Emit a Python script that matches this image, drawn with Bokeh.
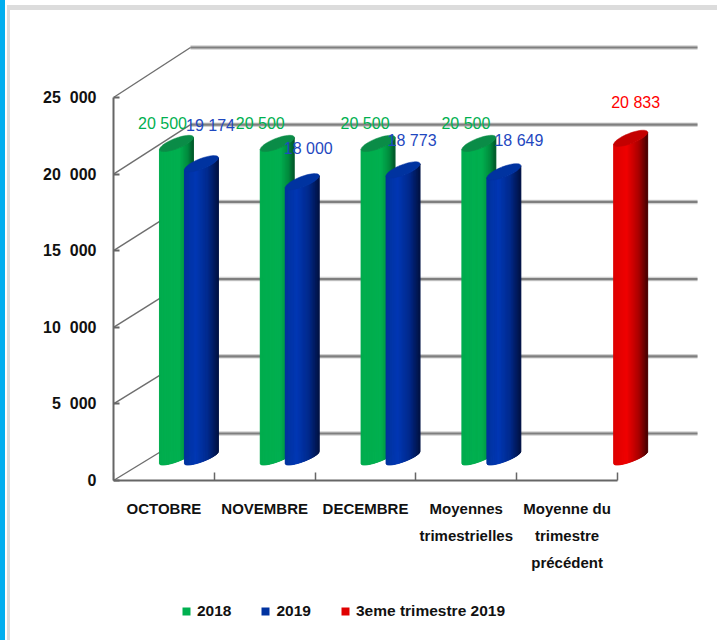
import math
from bokeh.embed import file_html
from bokeh.resources import INLINE
from bokeh.plotting import figure
from bokeh.models import Range1d, LinearAxis, FixedTicker, Legend, LegendItem, ColumnDataSource
from bokeh.core.properties import value

categories = ["OCTOBRE", "NOVEMBRE", "DECEMBRE", "Moyennes\ntrimestrielles", "Moyenne du\ntrimestre\nprécédent"]
values_2018 = [20500, 20500, 20500, 20500]
values_2019 = [19174, 18000, 18773, 18649]
values_t3 = [20833]
y_ticks = [0, 5000, 10000, 15000, 20000, 25000]
y_tick_labels = ["0", "5\u00a0\u00a0000", "10\u00a0\u00a0000", "15\u00a0\u00a0000", "20\u00a0\u00a0000", "25\u00a0\u00a0000"]
labels_2018 = ["20 500", "20 500", "20 500", "20 500"]
labels_2019 = ["19 174", "18 000", "18 773", "18 649"]
labels_t3 = ["20 833"]

FONT = "Liberation Sans"
PX_X = 100.8            # pixels per category
PX_Y = 76.6 / 5000      # pixels per value unit
ux = 1 / PX_X
uy = 1 / PX_Y

W, H = 717, 640
chrome = ("linear-gradient(#00aeef,#00aeef) 0 0/5px 100% no-repeat,"
          "linear-gradient(#dcdcdc,#dcdcdc) 7px 5px/710px 5px no-repeat,"
          "linear-gradient(#dcdcdc,#dcdcdc) 7px 5px/3px 635px no-repeat,"
          "#ffffff")
p = figure(width=W, height=H, output_backend="svg", toolbar_location=None,
           x_range=Range1d(0, (W - 113) * ux), y_range=Range1d(-160 * uy, 480 * uy),
           x_axis_type=None, y_axis_type=None,
           min_border_left=113, min_border_right=0, min_border_top=0, min_border_bottom=0,
           outline_line_color=None, background_fill_alpha=0, border_fill_alpha=0,
           styles={"background": chrome})
p.grid.visible = False

# depth of the back wall
dx, dy = 77 * ux, 47 * uy
grid_end = (697 - 113) * ux
back_gap = 1.0078
for color, width in (("#d2d2d2", 4.5), ("#7f7f7f", 2.2)):
    p.multi_line([[dx, grid_end] for _ in y_ticks], [[t * back_gap + dy, t * back_gap + dy] for t in y_ticks],
                 line_color=color, line_width=width)
p.multi_line([[0, dx] for _ in y_ticks], [[t, t * back_gap + dy] for t in y_ticks], line_color="#6e6e6e", line_width=1.4)

# axes
yax = LinearAxis(ticker=FixedTicker(ticks=y_ticks), bounds=(0, 25000),
                 major_label_overrides=dict(zip(y_ticks, y_tick_labels)),
                 major_tick_in=6, major_tick_out=0, minor_tick_line_color=None,
                 axis_line_color="#666666", axis_line_width=2, major_tick_line_color="#666666", major_tick_line_width=2,
                 major_label_text_font=FONT, major_label_text_font_style="bold", major_label_text_font_size="16px",
                 major_label_text_color="#111111", major_label_standoff=17)
p.add_layout(yax, "left")
edge_ticks = list(range(len(categories) + 1))
xax = LinearAxis(ticker=FixedTicker(ticks=edge_ticks), bounds=(0, len(categories)), fixed_location=0,
                 major_label_overrides={t: "" for t in edge_ticks}, major_label_standoff=0,
                 major_tick_in=8, major_tick_out=0, minor_tick_line_color=None,
                 axis_line_color="#666666", axis_line_width=2, major_tick_line_color="#666666", major_tick_line_width=1.5)
p.add_layout(xax, "below")
cat_ticks = [i + 0.5 for i in range(len(categories))]
xax2 = LinearAxis(ticker=FixedTicker(ticks=cat_ticks), major_label_overrides=dict(zip(cat_ticks, categories)),
                  fixed_location=0,
                  axis_line_color=None, major_tick_line_color=None, minor_tick_line_color=None,
                  major_tick_in=0, major_tick_out=0,
                  major_label_text_font=FONT, major_label_text_font_style="bold", major_label_text_font_size="15px",
                  major_label_text_color="#111111", major_label_standoff=19,
                  major_label_text_line_height=1.6)
p.add_layout(xax2, "below")

# cylinders
BASE = 23 * uy
A = 17 * ux
RISE = 6 * uy
B_BOTTOM = 4.5 * uy
B_TOP = 5.5 * uy
N = 48

def hex2rgb(h):
    return tuple(int(h[i:i + 2], 16) for i in (1, 3, 5))

def shade(stops, t):
    for (t0, c0), (t1, c1) in zip(stops, stops[1:]):
        if t <= t1:
            f = (t - t0) / (t1 - t0)
            a, b = hex2rgb(c0), hex2rgb(c1)
            return "#%02x%02x%02x" % tuple(round(a[k] + (b[k] - a[k]) * f) for k in range(3))
    return stops[-1][1]

def lower(cy, u, b):
    return cy + RISE * u - b * math.sqrt(max(0, 1 - u * u))

def cylinder(cx, v, stops, top_color):
    cb = BASE
    ct = BASE + v
    xs, ys, cs = [], [], []
    for i in range(N):
        u0, u1 = -1 + 2 * i / N, -1 + 2 * (i + 1) / N
        xs.append([cx + A * u0, cx + A * u1, cx + A * u1, cx + A * u0])
        ys.append([lower(cb, u0, B_BOTTOM), lower(cb, u1, B_BOTTOM), lower(ct, u1, B_TOP), lower(ct, u0, B_TOP)])
        cs.append(shade(stops, (i + 0.5) / N))
    p.patches(xs, ys, fill_color=cs, line_color=cs, line_width=0.9)
    th = [2 * math.pi * k / 48 for k in range(48)]
    p.patch([cx + A * math.cos(a) for a in th],
            [ct + RISE * math.cos(a) + B_TOP * math.sin(a) for a in th],
            fill_color=top_color, line_color=top_color, line_width=0.5)

GREEN = [(0, "#00ad4e"), (0.6, "#00b050"), (0.85, "#008a3e"), (1, "#00582a")]
BLUE = [(0, "#00329c"), (0.35, "#0038b4"), (0.7, "#002a8c"), (1, "#001244")]
RED = [(0, "#dc0000"), (0.4, "#f00000"), (0.75, "#aa0000"), (1, "#480000")]

SERIES_OFFSET = [0.456 + A, 0.704 + A, 0.962 + A]

swatches = []
for values, stops, top, off, col in ((values_2018, GREEN, "#0a8c47", SERIES_OFFSET[0], "#00b050"),
                                     (values_2019, BLUE, "#0033a0", SERIES_OFFSET[1], "#0033a0"),
                                     (values_t3, RED, "#c40000", SERIES_OFFSET[2], "#e00000")):
    start = 4 if values is values_t3 else 0
    xc = [start + i + off for i in range(len(values))]
    # a solid core under the shaded strips: also provides the legend swatch
    r = p.vbar(x=xc, width=2 * A * 0.8, bottom=BASE + RISE, top=[BASE + v - RISE for v in values],
               fill_color=col, line_color=None)
    swatches.append(r)
    for x, v in zip(xc, values):
        cylinder(x, v, stops, top)

# data labels
label_dx_2018 = [-14, -17, -13, -13]
label_dy_2018 = [20, 20, 20, 20]
label_dx_2019 = [9, 6, 9, 15]
label_dy_2019 = [38, 33, 29, 31]

def labels(start, off, vals, txt, color, ddx, ddy):
    src = ColumnDataSource(dict(x=[start + i + off for i in range(len(vals))],
                                y=[BASE + v for v in vals], t=txt,
                                dx=ddx, dy=[-d for d in ddy]))
    p.text("x", "y", text="t", source=src, x_offset="dx", y_offset="dy", text_color=color,
           text_font=value(FONT), text_font_size="16px", text_align="center", text_baseline="middle")

labels(0, SERIES_OFFSET[0], values_2018, labels_2018, "#00b050", label_dx_2018, label_dy_2018)
labels(0, SERIES_OFFSET[1], values_2019, labels_2019, "#1f48c0", label_dx_2019, label_dy_2019)
labels(4, SERIES_OFFSET[2], values_t3, labels_t3, "#ff0000", [5], [36])

legend = Legend(items=[LegendItem(label="2018", renderers=[swatches[0]]),
                       LegendItem(label="2019", renderers=[swatches[1]]),
                       LegendItem(label="3eme trimestre 2019", renderers=[swatches[2]])],
                orientation="horizontal", location=(68, 20),
                glyph_width=10, glyph_height=10, label_standoff=6, spacing=29, padding=2, margin=0,
                border_line_color=None, background_fill_alpha=0,
                label_text_font=FONT, label_text_font_style="bold", label_text_font_size="15.5px",
                label_text_color="#111111")
p.add_layout(legend, "center")

open("out.html", "w").write(file_html(p, INLINE))
